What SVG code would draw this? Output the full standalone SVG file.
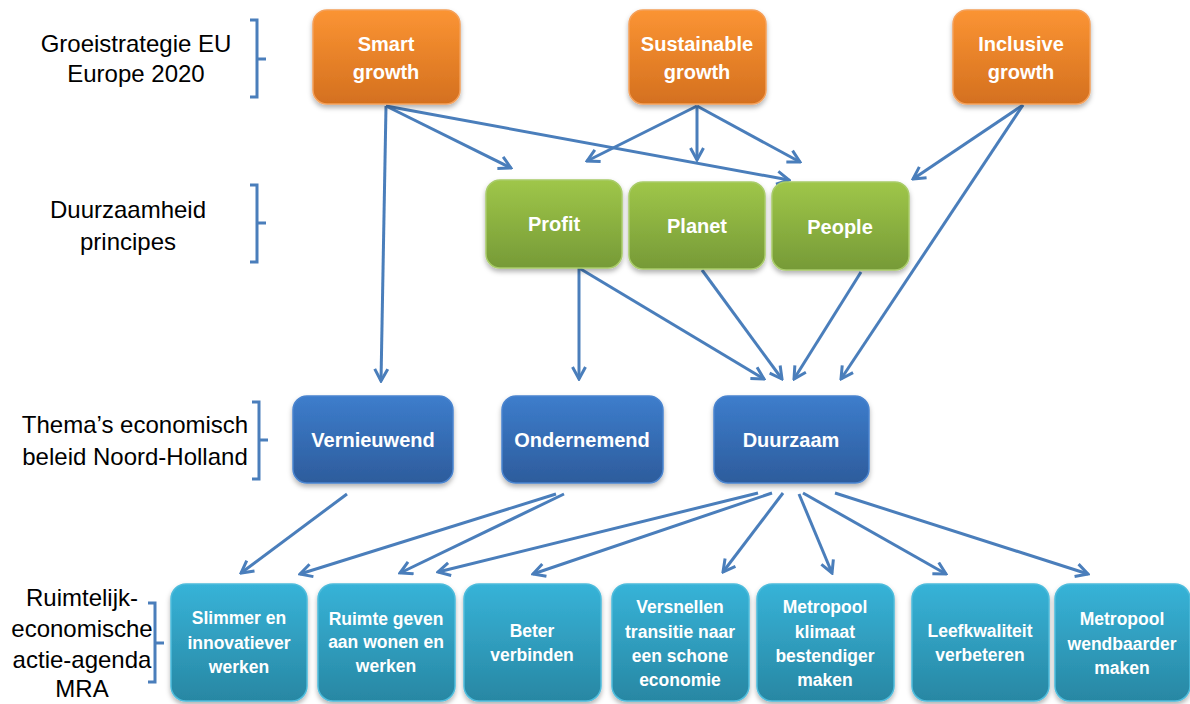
<svg xmlns="http://www.w3.org/2000/svg" width="1190" height="704" viewBox="0 0 1190 704">
<defs>
<linearGradient id="gO" x1="0" y1="0" x2="0" y2="1"><stop offset="0" stop-color="#FB9433"/><stop offset="1" stop-color="#D4701F"/></linearGradient>
<linearGradient id="gG" x1="0" y1="0" x2="0" y2="1"><stop offset="0" stop-color="#9FC649"/><stop offset="1" stop-color="#769A37"/></linearGradient>
<linearGradient id="gB" x1="0" y1="0" x2="0" y2="1"><stop offset="0" stop-color="#3D7DCC"/><stop offset="1" stop-color="#2D5C9C"/></linearGradient>
<linearGradient id="gC" x1="0" y1="0" x2="0" y2="1"><stop offset="0" stop-color="#37B3D8"/><stop offset="1" stop-color="#2887A3"/></linearGradient>
<filter id="sh" x="-10%" y="-10%" width="120%" height="130%"><feDropShadow dx="0" dy="3" stdDeviation="2.5" flood-color="#000" flood-opacity="0.3"/></filter>
<marker id="ah" viewBox="0 0 16 16" refX="14" refY="8" markerWidth="16" markerHeight="16" markerUnits="userSpaceOnUse" orient="auto"><path d="M2,1.5 L14,8 L2,14.5" fill="none" stroke="#4A7EBB" stroke-width="3" stroke-linejoin="miter"/></marker>
</defs>
<style>
.lbl{font-family:"Liberation Sans",Arial,sans-serif;font-size:24px;fill:#000;text-anchor:middle}
.bt{font-family:"Liberation Sans",Arial,sans-serif;font-weight:bold;font-size:20px;fill:#fff;text-anchor:middle}
.ct{font-family:"Liberation Sans",Arial,sans-serif;font-weight:bold;font-size:17.5px;fill:#fff;text-anchor:middle}
.o{fill:url(#gO);stroke:#F4A05A;stroke-width:1.5;filter:url(#sh)}
.g{fill:url(#gG);stroke:#A9CC6A;stroke-width:1.5;filter:url(#sh)}
.b{fill:url(#gB);stroke:#4A84CF;stroke-width:1.5;filter:url(#sh)}
.c{fill:url(#gC);stroke:#4DBCDC;stroke-width:1.5;filter:url(#sh)}
.br{fill:none;stroke:#4A7EBB;stroke-width:3}
.ar{fill:none;stroke:#4A7EBB;stroke-width:3;marker-end:url(#ah)}
</style>
<rect width="1190" height="704" fill="#fff"/>

<g id="labels">
<text class="lbl" x="136" y="52">Groeistrategie EU</text>
<text class="lbl" x="136" y="82">Europe 2020</text>
<path class="br" d="M250,20 H257 V97 H250 M257,59 H266"/>
<text class="lbl" x="128" y="218">Duurzaamheid</text>
<text class="lbl" x="128" y="250">principes</text>
<path class="br" d="M250,185 H257 V262 H250 M257,223 H266"/>
<text class="lbl" x="135" y="433">Thema’s economisch</text>
<text class="lbl" x="135" y="465">beleid Noord-Holland</text>
<path class="br" d="M252,402 H259 V479 H252 M259,440 H268"/>
<text class="lbl" x="82" y="606">Ruimtelijk-</text>
<text class="lbl" x="82" y="637">economische</text>
<text class="lbl" x="82" y="668">actie-agenda</text>
<text class="lbl" x="82" y="697">MRA</text>
<path class="br" d="M148,603 H155 V682 H148 M155,643 H164"/>
</g>

<g id="connectors">
<line class="ar" x1="386" y1="106" x2="381" y2="381"/>
<line class="ar" x1="386" y1="106" x2="511" y2="168"/>
<line class="ar" x1="386" y1="106" x2="789" y2="180"/>
<line class="ar" x1="697" y1="106" x2="587" y2="161"/>
<line class="ar" x1="697" y1="106" x2="697" y2="160"/>
<line class="ar" x1="697" y1="106" x2="800" y2="162"/>
<line class="ar" x1="1023" y1="105" x2="913" y2="179"/>
<line class="ar" x1="1023" y1="105" x2="841" y2="379"/>
<line class="ar" x1="579" y1="268" x2="579" y2="379"/>
<line class="ar" x1="579" y1="268" x2="764" y2="379"/>
<line class="ar" x1="702" y1="270" x2="782" y2="379"/>
<line class="ar" x1="861" y1="272" x2="794" y2="379"/>
<line class="ar" x1="347" y1="494" x2="241" y2="573"/>
<line class="ar" x1="556" y1="494" x2="300" y2="574"/>
<line class="ar" x1="564" y1="494" x2="400" y2="573"/>
<line class="ar" x1="758" y1="493" x2="438" y2="572"/>
<line class="ar" x1="772" y1="493" x2="533" y2="574"/>
<line class="ar" x1="783" y1="493" x2="723" y2="572"/>
<line class="ar" x1="799" y1="494" x2="832" y2="573"/>
<line class="ar" x1="803" y1="493" x2="946" y2="574"/>
<line class="ar" x1="835" y1="493" x2="1088" y2="574"/>
</g>

<g id="smart"><rect class="o" x="313" y="10" width="147" height="94" rx="14"/><text class="bt" x="386" y="51">Smart</text><text class="bt" x="386" y="79">growth</text></g>
<g id="sustainable"><rect class="o" x="629" y="10" width="137" height="94" rx="14"/><text class="bt" x="697" y="51">Sustainable</text><text class="bt" x="697" y="79">growth</text></g>
<g id="inclusive"><rect class="o" x="953" y="10" width="137" height="94" rx="14"/><text class="bt" x="1021" y="51">Inclusive</text><text class="bt" x="1021" y="79">growth</text></g>

<g id="profit"><rect class="g" x="486" y="180" width="136" height="88" rx="14"/><text class="bt" x="554" y="231">Profit</text></g>
<g id="planet"><rect class="g" x="629" y="182" width="136" height="87" rx="14"/><text class="bt" x="697" y="233">Planet</text></g>
<g id="people"><rect class="g" x="772" y="182" width="137" height="88" rx="14"/><text class="bt" x="840" y="234">People</text></g>

<g id="vernieuwend"><rect class="b" x="293" y="396" width="160" height="87" rx="14"/><text class="bt" x="373" y="447">Vernieuwend</text></g>
<g id="ondernemend"><rect class="b" x="502" y="396" width="161" height="87" rx="14"/><text class="bt" x="582" y="447">Ondernemend</text></g>
<g id="duurzaam"><rect class="b" x="714" y="396" width="155" height="87" rx="14"/><text class="bt" x="791" y="447">Duurzaam</text></g>

<g id="slimmer"><rect class="c" x="171" y="584" width="136" height="117" rx="15"/><text class="ct" x="239" y="624">Slimmer en</text><text class="ct" x="239" y="649">innovatiever</text><text class="ct" x="239" y="673">werken</text></g>
<g id="ruimte"><rect class="c" x="318" y="584" width="137" height="117" rx="15"/><text class="ct" x="386" y="625">Ruimte geven</text><text class="ct" x="386" y="648">aan wonen en</text><text class="ct" x="386" y="672">werken</text></g>
<g id="beter"><rect class="c" x="464" y="584" width="137" height="117" rx="15"/><text class="ct" x="532" y="637">Beter</text><text class="ct" x="532" y="661">verbinden</text></g>
<g id="versnellen"><rect class="c" x="612" y="584" width="137" height="117" rx="15"/><text class="ct" x="680" y="613">Versnellen</text><text class="ct" x="680" y="638">transitie naar</text><text class="ct" x="680" y="662">een schone</text><text class="ct" x="680" y="686">economie</text></g>
<g id="klimaat"><rect class="c" x="757" y="584" width="137" height="117" rx="15"/><text class="ct" x="825" y="613">Metropool</text><text class="ct" x="825" y="638">klimaat</text><text class="ct" x="825" y="662">bestendiger</text><text class="ct" x="825" y="686">maken</text></g>
<g id="leefkwaliteit"><rect class="c" x="912" y="584" width="137" height="117" rx="15"/><text class="ct" x="980" y="637">Leefkwaliteit</text><text class="ct" x="980" y="661">verbeteren</text></g>
<g id="wendbaarder"><rect class="c" x="1055" y="584" width="135" height="117" rx="15"/><text class="ct" x="1122" y="625">Metropool</text><text class="ct" x="1122" y="650">wendbaarder</text><text class="ct" x="1122" y="674">maken</text></g>
</svg>
